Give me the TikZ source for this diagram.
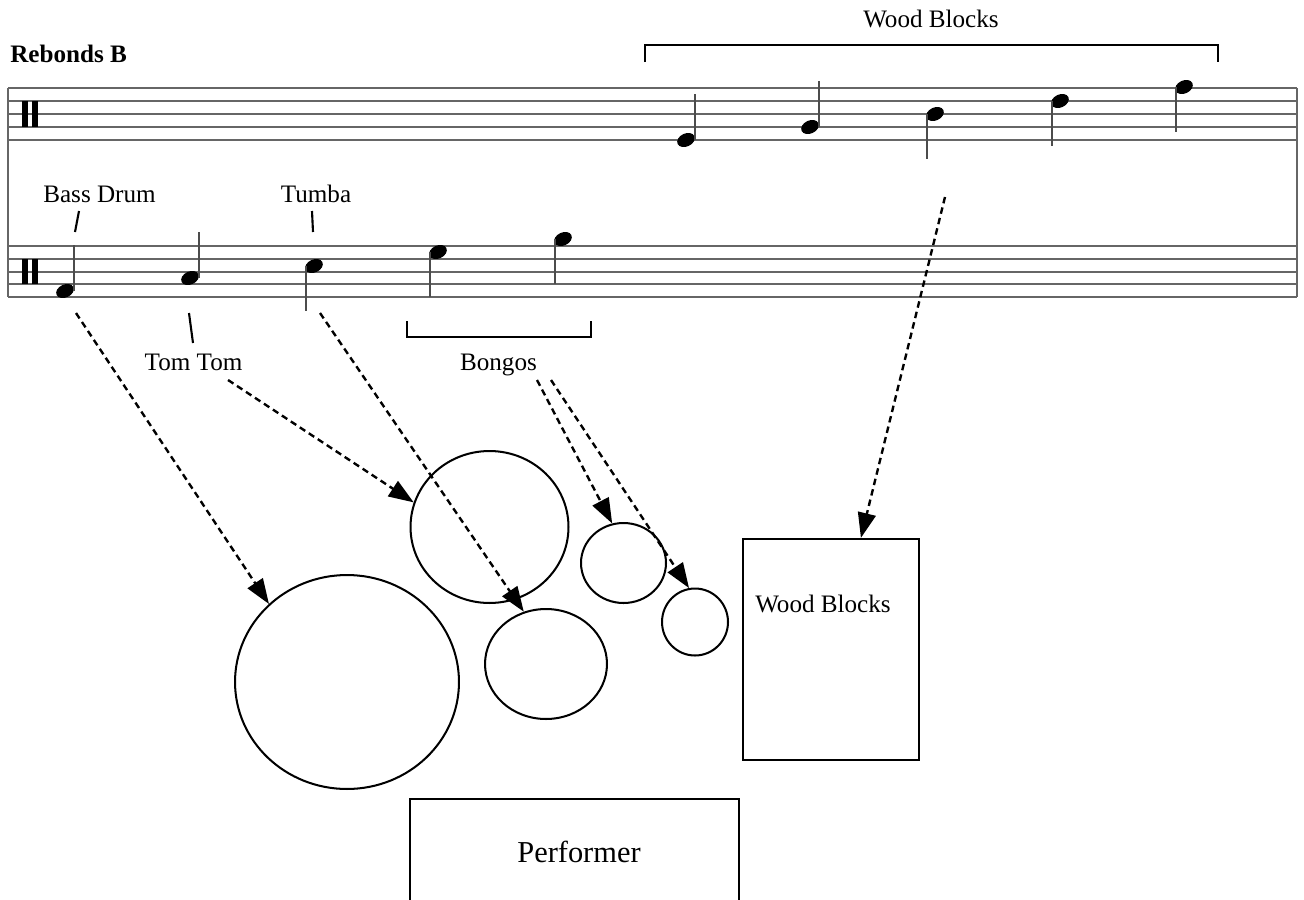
\documentclass[tikz,border=0pt]{standalone}
\usepackage{fontspec}
\setmainfont{Liberation Serif}
\usetikzlibrary{arrows.meta, shapes.geometric, positioning}

\begin{document}
\begin{tikzpicture}[
  x=0.02cm, y=-0.02cm,
  staffline/.style = {line width=0.8pt, black!60},
  stem/.style      = {line width=0.9pt, black!70},
  head/.style      = {fill=black},
  drum/.style      = {ellipse, draw, line width=1.15pt, inner sep=0pt},
  blockbox/.style  = {rectangle, draw, line width=1.3pt, inner sep=0pt},
  lbl/.style       = {font=\fontsize{14.3}{17}\selectfont, inner sep=0pt, anchor=base},
  tickmark/.style  = {line width=1.2pt},
  brack/.style     = {line width=1.3pt},
  arr/.style       = {-{Triangle[length=0.5cm, width=0.36cm]},
                      dash pattern=on 0.13cm off 0.085cm, line width=1.35pt}
]
\useasboundingbox (0,0) rectangle (1304,899);

% staves
\foreach \y in {88,101,114,127,140}
  \draw[staffline] (8,\y) -- (1297,\y);
\foreach \y in {246,259,272,284,297}
  \draw[staffline] (8,\y) -- (1297,\y);
\draw[staffline] (8,88) -- (8,297);
\draw[staffline] (1297,88) -- (1297,297);

% percussion clefs
\fill (22,101) rectangle (28,127);
\fill (32,101) rectangle (38,127);
\fill (22,259) rectangle (28,284);
\fill (32,259) rectangle (38,284);

% notes, stem up
\foreach \x/\y in {686/140, 810/127, 65/291, 190/278} {
  \fill[head, rotate around={25:(\x,\y)}] (\x,\y) ellipse [x radius=0.185cm, y radius=0.13cm];
  \draw[stem] (\x+9,\y) -- (\x+9,\y-46);
}
% notes, stem down
\foreach \x/\y in {935/114, 1060/101, 1184/87, 314/266, 438/252, 563/239} {
  \fill[head, rotate around={25:(\x,\y)}] (\x,\y) ellipse [x radius=0.185cm, y radius=0.13cm];
  \draw[stem] (\x-8,\y) -- (\x-8,\y+45);
}

% labels on the score
\node[lbl, anchor=base west, font=\fontsize{14.3}{17}\selectfont\bfseries] (title) at (10,62) {Rebonds B};
\node[lbl] (wbtop) at (931,28) {Wood Blocks};
\node[lbl] (bdlbl) at (99.5,202) {Bass Drum};
\node[lbl] (tblbl) at (316,202) {Tumba};
\node[lbl] (ttlbl) at (193.5,370) {Tom Tom};
\node[lbl] (bglbl) at (498.5,370) {Bongos};

\draw[tickmark] (79,211) -- (75,232);
\draw[tickmark] (312,211) -- (313,232);
\draw[tickmark] (189,313) -- (193,343);

\draw[brack] (645,62) -- (645,45) -- (1218,45) -- (1218,62);
\draw[brack] (407,321) -- (407,337) -- (591,337) -- (591,321);

% instruments
\node[drum, minimum width=4.48cm, minimum height=4.28cm] (bd) at (347,682) {};
\node[drum, minimum width=3.16cm, minimum height=3.04cm] (tt) at (489.5,527) {};
\node[drum, minimum width=2.44cm, minimum height=2.2cm] (tb) at (546,664) {};
\node[drum, minimum width=1.7cm, minimum height=1.6cm] (bg1) at (623.5,563) {};
\node[drum, minimum width=1.32cm, minimum height=1.34cm] (bg2) at (695,622) {};
\node[blockbox, minimum width=3.52cm, minimum height=4.42cm] (wb) at (831,649.5) {};
\node[lbl] (wblbl) at (823,612) {Wood Blocks};

\draw[line width=1.3pt] (410,905) -- (410,799) -- (739,799) -- (739,905);
\node[lbl, font=\fontsize{17.3}{20}\selectfont] (perf) at (579,862) {Performer};

% connectors
\coordinate (bdstart) at (76,313);
\coordinate (ttstart) at (228,380);
\coordinate (tbstart) at (320,313);
\coordinate (bgstartA) at (537,380);
\coordinate (bgstartB) at (551,380);
\coordinate (wbstart) at (945,197);

\draw[arr] (bdstart) -- (bd.135);
\draw[arr] (ttstart) -- (tt.162);
\draw[arr] (tbstart) -- (tb.113);
\draw[arr] (bgstartA) -- (bg1.106);
\draw[arr] (bgstartB) -- (bg2.100);
\draw[arr] (wbstart) -- (wb.75);
\end{tikzpicture}
\end{document}
